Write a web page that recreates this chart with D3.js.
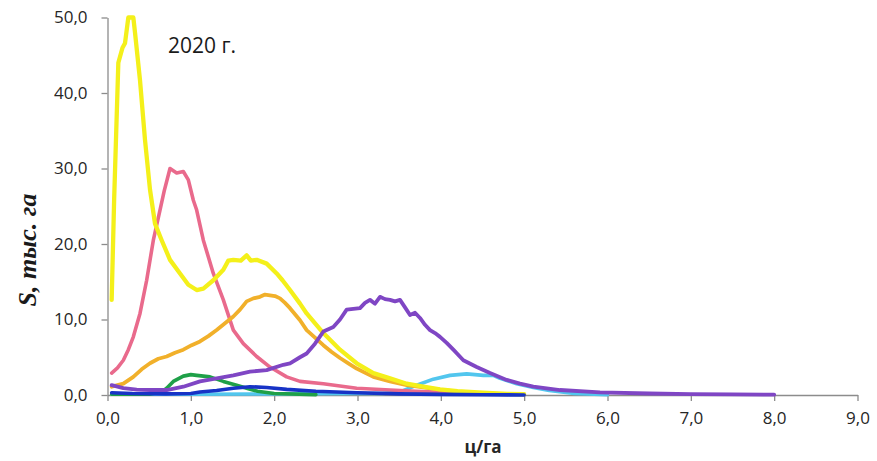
<!DOCTYPE html>
<html><head><meta charset="utf-8">
<script src="https://cdn.jsdelivr.net/npm/d3@7/dist/d3.min.js"></script>
<style>body{margin:0;background:#fff}</style>
</head><body>
<svg id="chart" width="877" height="461"></svg>
<script>
// ---- data (x in ц/га, y in тыс. га) ----
const xTicks = [0,1,2,3,4,5,6,7,8,9];
const yTicks = [0,10,20,30,40,50];
const yearLabel = "2020 г.";
const xTitle = "ц/га";
const yTitle = "S, тыс. га";

const cyanX = [0.05,1.0,2.0,3.0,3.3,3.51,3.71,3.91,4.11,4.31,4.51,4.63,4.71,4.91,5.11,5.3,5.6,6.0];
const cyanY = [0.1,0.1,0.15,0.2,0.2,0.4,1.3,2.1,2.6,2.8,2.6,2.6,2.2,1.5,1.0,0.6,0.2,0.05];

const greenX = [0.05,0.5,0.65,0.71,0.79,0.91,1.0,1.07,1.15,1.23,1.31,1.39,1.55,1.67,1.8,2.0,2.5];
const greenY = [0.1,0.1,0.4,0.9,1.8,2.5,2.7,2.6,2.5,2.4,2.1,1.8,1.3,0.9,0.5,0.2,0.05];

const pinkX = [0.05,0.12,0.19,0.25,0.31,0.39,0.47,0.55,0.63,0.68,0.75,0.83,0.91,0.97,1.03,1.07,1.15,1.27,1.39,1.51,1.63,1.79,1.95,2.15,2.31,2.59,2.99,3.39,3.7,4.0,4.5,5.0];
const pinkY = [2.9,3.6,4.6,6.0,7.7,10.8,15.2,20.5,24.5,27.0,30.0,29.4,29.6,28.5,25.8,24.5,20.5,16.1,12.6,8.6,6.8,5.1,3.7,2.4,1.8,1.5,0.9,0.66,0.5,0.35,0.2,0.1];

const orangeX = [0.05,0.19,0.31,0.41,0.51,0.61,0.71,0.81,0.91,1.01,1.11,1.21,1.31,1.41,1.51,1.59,1.67,1.75,1.83,1.89,1.95,2.01,2.07,2.13,2.19,2.31,2.39,2.49,2.59,2.69,2.79,2.89,2.99,3.19,3.39,3.59,3.79,3.99,4.2,4.5,4.8];
const orangeY = [1.1,1.5,2.4,3.4,4.2,4.8,5.1,5.6,6.0,6.6,7.1,7.8,8.6,9.5,10.4,11.3,12.4,12.8,13.0,13.3,13.2,13.1,12.8,12.2,11.5,9.9,8.6,7.6,6.6,5.7,4.9,4.2,3.5,2.4,1.8,1.3,1.0,0.7,0.45,0.2,0.1];

const yellowX = [0.05,0.08,0.13,0.18,0.21,0.25,0.31,0.33,0.39,0.45,0.51,0.57,0.65,0.75,0.87,0.97,1.07,1.15,1.27,1.39,1.45,1.51,1.6,1.67,1.72,1.79,1.91,2.03,2.1,2.19,2.31,2.39,2.59,2.79,2.99,3.19,3.39,3.59,3.79,3.99,4.2,4.5,4.8,5.0];
const yellowY = [12.6,26,44,46,46.6,50,50,48,41.7,33.8,27.2,22.7,20.5,17.9,16.1,14.6,13.9,14.1,15.2,16.6,17.8,17.9,17.8,18.5,17.8,17.9,17.4,16.1,15.2,13.9,12.1,10.8,8.2,6.0,4.2,2.9,2.2,1.5,1.1,0.75,0.5,0.3,0.15,0.1];

const purpleX = [0.05,0.19,0.35,0.51,0.71,0.91,1.11,1.31,1.51,1.71,1.91,2.11,2.19,2.31,2.39,2.49,2.59,2.71,2.79,2.87,2.95,3.03,3.09,3.15,3.21,3.27,3.33,3.39,3.45,3.51,3.57,3.63,3.69,3.75,3.81,3.87,3.93,3.99,4.07,4.15,4.27,4.43,4.59,4.79,4.95,5.11,5.43,5.91,6.5,7.0,7.5,8.0];
const purpleY = [1.3,0.9,0.7,0.66,0.66,1.1,1.8,2.2,2.6,3.1,3.3,4.0,4.2,5.0,5.5,6.8,8.4,9.0,10.0,11.3,11.4,11.5,12.2,12.6,12.1,13.0,12.7,12.6,12.4,12.6,11.6,10.6,10.9,10.2,9.3,8.6,8.2,7.7,6.9,6.0,4.6,3.7,2.9,2.0,1.5,1.1,0.66,0.35,0.2,0.12,0.08,0.05];

const blueX = [0.05,0.3,0.7,1.0,1.11,1.31,1.51,1.71,1.91,2.15,2.5,3.0,3.5,4.0,4.5,5.0];
const blueY = [0.3,0.2,0.15,0.2,0.4,0.6,0.9,1.1,1.0,0.75,0.5,0.3,0.15,0.08,0.03,0.0];

const seriesList = [
  {x: cyanX, y: cyanY, color: "#52C6EE", w: 3.6},
  {x: greenX, y: greenY, color: "#1FA048", w: 3.6},
  {x: pinkX, y: pinkY, color: "#E96A8C", w: 3.6},
  {x: orangeX, y: orangeY, color: "#F1B02A", w: 3.8},
  {x: yellowX, y: yellowY, color: "#F4F01A", w: 4.3},
  {x: purpleX, y: purpleY, color: "#7F46C4", w: 3.8},
  {x: blueX, y: blueY, color: "#1733C6", w: 3.6}
];

// ---- layout ----
const svg = d3.select("#chart");
const plotL = 107.5, plotR = 857.5, plotT = 17.5, plotB = 395;
const x = d3.scaleLinear().domain([0, 9]).range([plotL, plotR]);
const y = d3.scaleLinear().domain([0, 50]).range([plotB, plotT]);
const fmt = d => d3.format(".1f")(d).replace(".", ",");
const axisColor = "#8C8C8C";
const tickFont = "'Open Sans', sans-serif";

// x axis
const gx = svg.append("g").attr("transform", `translate(0,${plotB})`)
  .call(d3.axisBottom(x).tickValues(xTicks).tickFormat(fmt).tickSize(6).tickSizeOuter(0));
gx.select(".domain").attr("stroke", axisColor).attr("stroke-width", 1.3);
gx.selectAll(".tick line").attr("stroke", axisColor).attr("stroke-width", 1.3);
gx.selectAll(".tick text").attr("fill", "#262626").attr("font-family", tickFont)
  .attr("font-size", 17).attr("y", 13).attr("dy", "0.95em");

// y axis
const gy = svg.append("g").attr("transform", `translate(${plotL},0)`)
  .call(d3.axisLeft(y).tickValues(yTicks).tickFormat(fmt).tickSize(6).tickSizeOuter(0));
gy.select(".domain").attr("stroke", axisColor).attr("stroke-width", 1.3);
gy.selectAll(".tick line").attr("stroke", axisColor).attr("stroke-width", 1.3);
gy.selectAll(".tick text").attr("fill", "#262626").attr("font-family", tickFont)
  .attr("font-size", 17).attr("x", -20);

// lines
const line = d3.line().x(d => x(d[0])).y(d => y(d[1])).curve(d3.curveLinear);
seriesList.forEach(s => {
  const pts = s.x.map((v, i) => [v, s.y[i]]);
  svg.append("path").datum(pts).attr("d", line)
    .attr("fill", "none").attr("stroke", s.color)
    .attr("stroke-width", s.w).attr("stroke-linejoin", "round").attr("stroke-linecap", "round");
});

// year label
svg.append("text").attr("x", 168).attr("y", 53).text(yearLabel)
  .attr("font-family", tickFont).attr("font-size", 21).attr("fill", "#1a1a1a");

// x title
svg.append("text").attr("x", 483).attr("y", 453).attr("text-anchor", "middle").text(xTitle)
  .attr("font-family", tickFont).attr("font-size", 17).attr("font-weight", "bold").attr("fill", "#262626");

// y title
svg.append("text").attr("transform", "translate(36,250) rotate(-90)").attr("text-anchor", "middle")
  .text(yTitle).attr("font-family", "'Liberation Serif', 'Times New Roman', serif")
  .attr("font-size", 26).attr("font-weight", "bold").attr("font-style", "italic").attr("fill", "#1a1a1a");
</script>
</body></html>
